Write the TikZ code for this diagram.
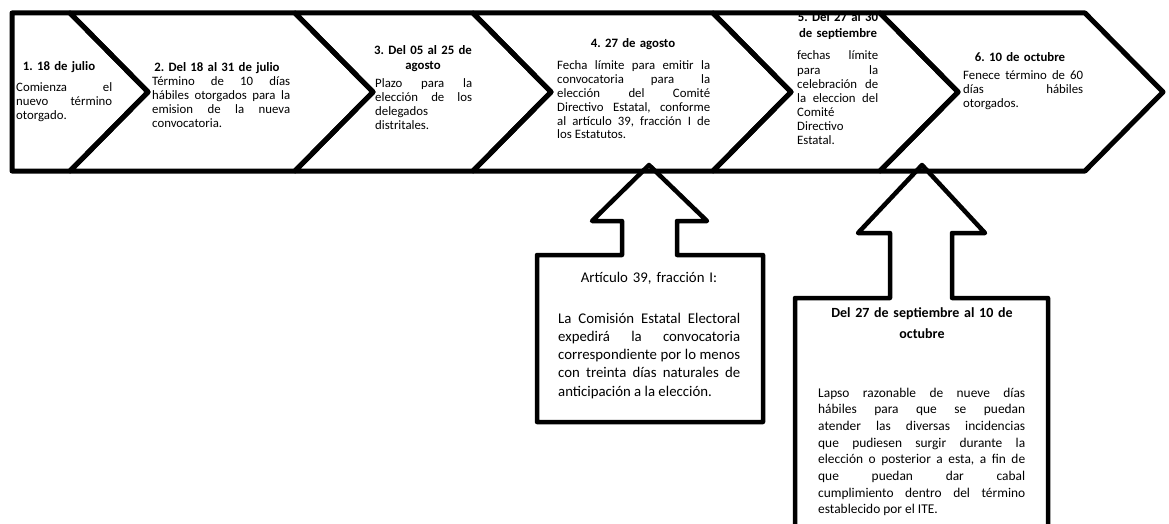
\documentclass[tikz,border=0pt]{standalone}
\usepackage{fontspec}
\setmainfont{Carlito}
\usetikzlibrary{calc}
\frenchspacing
\hyphenpenalty=10000
\exhyphenpenalty=10000

\tikzset{
	etapa/.style={line width=5pt,line join=round},
	flecha/.style={line width=4.5pt,line join=round},
	titulo/.style={font=\bfseries\fontsize{12.8}{15}\selectfont,align=center,inner sep=0pt,anchor=base},
	texto/.style={font=\fontsize{12.8}{13.8}\selectfont,align=justify,inner sep=0pt,anchor=base west},
	textocaja/.style={font=\fontsize{14.8}{18.3}\selectfont,align=justify,inner sep=0pt,anchor=base west},
	textocajab/.style={font=\fontsize{13.4}{16.7}\selectfont,align=justify,inner sep=0pt,anchor=base west},
}

\begin{document}
\begin{tikzpicture}[x=1pt,y=-1pt]
				\useasboundingbox (0,0) rectangle (1169,524);
				% Etapas
				\draw [etapa] (12,13) -- (70,13) -- (148,92) -- (70,171) -- (12,171) -- cycle;
				\foreach \a/\b in {70/295,295/473,473/713,713/880,880/1085}
					\draw [etapa] (\a,13) -- (\b,13) -- (\b+78,92) -- (\b,171) -- (\a,171) -- (\a+78,92) -- cycle;
				% Flechas
				\draw [flecha] (537,422) -- (537,255) -- (622,255) -- (622,221) -- (592,221) -- (649,165)
					-- (707,221) -- (677,221) -- (677,255) -- (763,255) -- (763,422) -- cycle;
				\draw [flecha] (795,530) -- (795,298) -- (890,298) -- (890,233) -- (858,233) -- (922,165)
					-- (985,233) -- (952,233) -- (952,298) -- (1048,298) -- (1048,530);
				% Textos
				\node [titulo,text width=100] (t1) at (59,71) {1. 18 de julio};
				\node [texto,text width=96] (x1) at (16,92) {Comienza el\linebreak nuevo término\linebreak otorgado.};
				\node [titulo,text width=150] (t2) at (217,72) {2. Del 18 al 31 de julio};
				\node [texto,text width=138] (x2) at (152,86) {Término de 10 días\linebreak hábiles otorgados para la\linebreak emision de la nueva\linebreak convocatoria.};
				\node [titulo,text width=110] (t3) at (423,55) {3. Del 05 al 25 de\\ agosto};
				\node [texto,text width=97] (x3) at (375,88) {Plazo para la\linebreak elección de los\linebreak delegados\linebreak distritales.};
				\node [titulo,text width=150] (t4) at (633,48) {4. 27 de agosto};
				\node [texto,text width=153] (x4) at (557,70) {Fecha límite para emitir la\linebreak convocatoria para la\linebreak elección del Comité\linebreak Directivo Estatal, conforme\linebreak al artículo 39, fracción I de\linebreak los Estatutos.};
				\node [titulo,font=\bfseries\fontsize{12.8}{16}\selectfont,text width=90] (t5) at (838,22) {5. Del 27 al 30\\ de septiembre};
				\node [texto,font=\fontsize{12.8}{14.1}\selectfont,text width=81] (x5) at (797,60) {fechas límite\linebreak para la\linebreak celebración de\linebreak la eleccion del\linebreak Comité\linebreak Directivo\linebreak Estatal.};
				\node [titulo,text width=120] (t6) at (1020,62) {6. 10 de octubre};
				\node [texto,text width=120] (x6) at (963,80) {Fenece término de 60\linebreak días hábiles\linebreak otorgados.};
				\node [titulo,font=\fontsize{14.8}{18.3}\selectfont,text width=200] (c1t) at (649,282) {Artículo 39, fracción I:};
				\node [textocaja,text width=182] (c1) at (558,323) {La Comisión Estatal Electoral\linebreak expedirá la convocatoria\linebreak correspondiente por lo menos\linebreak con treinta días naturales de\linebreak anticipación a la elección.};
				\node [titulo,font=\bfseries\fontsize{14}{21}\selectfont,text width=220] (c2t) at (922,317) {Del 27 de septiembre al 10 de\\ octubre};
				\node [textocajab,text width=207] (c2) at (818,397) {Lapso razonable de nueve días\linebreak hábiles para que se puedan\linebreak atender las diversas incidencias\linebreak que pudiesen surgir durante la\linebreak elección o posterior a esta, a fin de\linebreak que puedan dar cabal\linebreak cumplimiento dentro del término\linebreak establecido por el ITE.};
\end{tikzpicture}
\end{document}
